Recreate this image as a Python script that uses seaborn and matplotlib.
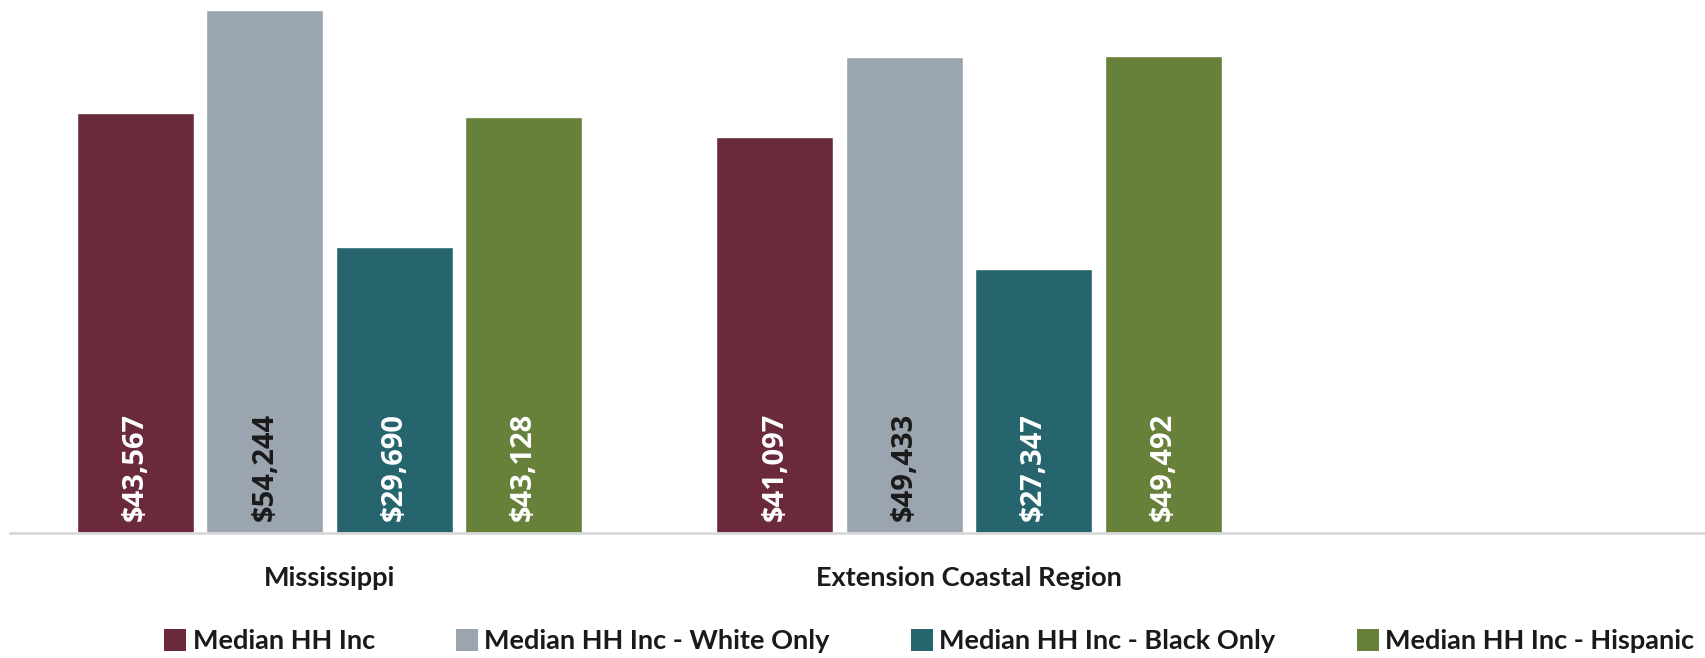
import pandas as pd
import matplotlib
matplotlib.use("Agg")
import matplotlib.pyplot as plt
import seaborn as sns
from matplotlib.patches import Patch

# Chart data
regions = ["Mississippi", "Extension Coastal Region"]
series = ["Median HH Inc", "Median HH Inc - White Only",
          "Median HH Inc - Black Only", "Median HH Inc - Hispanic"]
values = {
    "Median HH Inc": [43567, 41097],
    "Median HH Inc - White Only": [54244, 49433],
    "Median HH Inc - Black Only": [29690, 27347],
    "Median HH Inc - Hispanic": [43128, 49492],
}
colors = ["#6B2A3C", "#9BA5AF", "#26656D", "#67803A"]
label_colors = ["white", "#1a1a1a", "white", "white"]

df = pd.DataFrame(
    [(r, s, values[s][i]) for s in series for i, r in enumerate(regions)],
    columns=["region", "series", "value"],
)

sns.set_theme(style="white")
plt.rcParams["font.family"] = ["Lato", "DejaVu Sans"]

fig = plt.figure(figsize=(17.05, 6.58), dpi=100)
# axes runs off the right edge like the original (third empty slot cropped)
ax = fig.add_axes([9.75 / 1705, 1 - 533 / 658, (1705 - 9.75) / 1705, 533 / 658])

sns.barplot(data=df, x="region", y="value", hue="series", order=regions,
            hue_order=series, palette=colors, width=0.81, gap=0.1,
            saturation=1, legend=False, ax=ax)

ax.set_xlim(-0.5, -0.5 + (1705 - 9.75) / 639.5)
ax.set_ylim(0, 55300)
ax.set_xlabel("")
ax.set_ylabel("")
ax.set_yticks([])
ax.tick_params(axis="x", length=0, pad=24)
for lbl in ax.get_xticklabels():
    lbl.set_fontsize(19.5)
    lbl.set_fontweight("bold")
    lbl.set_color("#1a1a1a")

for side in ["top", "right", "left"]:
    ax.spines[side].set_visible(False)
ax.spines["bottom"].set_color("#D9D9D9")
ax.spines["bottom"].set_linewidth(2)

# rotated value labels near the bottom of each bar
for cont, tc in zip(ax.containers, label_colors):
    for bar in cont:
        h = bar.get_height()
        ax.text(bar.get_x() + bar.get_width() / 2, 1200, f"${h:,.0f}",
                rotation=90, ha="center", va="bottom", color=tc,
                fontsize=21, fontweight="bold",
                family=["Open Sans", "DejaVu Sans"])

handles = [Patch(facecolor=c, edgecolor="none") for c in colors]
leg = fig.legend(handles, series, loc="center", bbox_to_anchor=(0.545, 1 - 641 / 658),
                 ncol=4, frameon=False, handlelength=0.8, handleheight=0.9,
                 handletextpad=0.25, columnspacing=3.0,
                 prop={"size": 19.5, "weight": "bold"})
for t in leg.get_texts():
    t.set_color("#1a1a1a")

fig.savefig("out.png", dpi=100)
